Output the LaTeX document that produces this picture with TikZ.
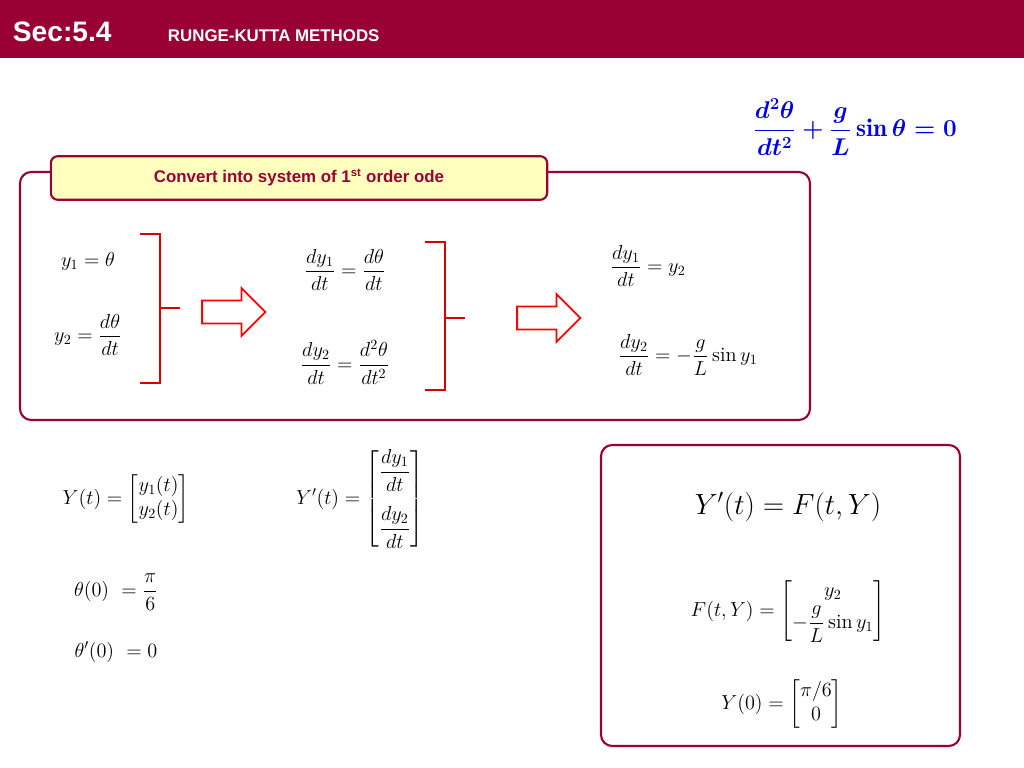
\documentclass[tikz,border=0pt]{standalone}
\usepackage{amsmath}
\usepackage{fontspec}
\setsansfont{Liberation Sans}
\usetikzlibrary{shapes.arrows}
\definecolor{hdr}{RGB}{153,0,51}
\definecolor{lbl}{RGB}{255,255,190}
\definecolor{bblue}{RGB}{0,0,230}
\begin{document}
\begin{tikzpicture}[x=0.025cm,y=-0.025cm,
 m/.style={inner sep=0pt,font=\fontsize{14.5}{17}\selectfont},
 br/.style={red!85!black,line width=1.4pt},
 bigarr/.style={single arrow,draw=red,line width=1.3pt,fill=white,minimum height=45,minimum width=34,single arrow head extend=5,inner sep=4pt}]
\useasboundingbox (0,0) rectangle (1024,768);
\fill[hdr] (0,0) rectangle (1024,58);
\node[anchor=west,text=white,font=\sffamily\bfseries\fontsize{20}{22}\selectfont] (sec) at (8,32) {Sec:5.4};
\node[anchor=west,text=white,font=\sffamily\bfseries\fontsize{12}{14}\selectfont] (ttl) at (163,36) {RUNGE-KUTTA METHODS};
\node[text=bblue,font=\fontsize{18}{21}\selectfont] (eq) at (855,127) {$\boldsymbol{\dfrac{d^2\theta}{dt^2}+\dfrac{g}{L}\sin\theta=0}$};
\draw[hdr,line width=1.5pt,rounded corners=8] (20,172) rectangle (810,420);
\node[draw=hdr,line width=1.5pt,fill=lbl,rounded corners=5,minimum width=353pt,minimum height=31pt,font=\sffamily\bfseries\fontsize{12}{14}\selectfont,text=hdr] (lab) at (299,178) {Convert into system of 1\textsuperscript{st} order ode};
\node[m] (a1) at (88,261) {$y_1=\theta$};
\node[m] (a2) at (88,335) {$y_2=\dfrac{d\theta}{dt}$};
\draw[br] (140,234) -- (160,234) -- (160,383) -- (140,383);
\draw[br] (160,308) -- (180,308);
\node[bigarr] (ar1) at (228,312) {};
\node[m] (b1) at (345,270) {$\dfrac{dy_1}{dt}=\dfrac{d\theta}{dt}$};
\node[m] (b2) at (345,362) {$\dfrac{dy_2}{dt}=\dfrac{d^2\theta}{dt^2}$};
\draw[br] (425,242) -- (445,242) -- (445,390) -- (425,390);
\draw[br] (445,318) -- (465,318);
\node[bigarr] (ar2) at (543,318) {};
\node[m] (c1) at (648,266) {$\dfrac{dy_1}{dt}=y_2$};
\node[m] (c2) at (688,355) {$\dfrac{dy_2}{dt}=-\dfrac{g}{L}\sin y_1$};
\node[m] (d1) at (126,499) {$Y(t)=\begin{bmatrix}y_1(t)\\ y_2(t)\end{bmatrix}$};
\node[m] (d2) at (360,499) {$Y'(t)=\begin{bmatrix}\dfrac{dy_1}{dt}\\[16pt] \dfrac{dy_2}{dt}\end{bmatrix}$};
\node[m] (d3) at (116,592) {$\theta(0)\ =\dfrac{\pi}{6}$};
\node[m] (d4) at (116,652) {$\theta'(0)\ =0$};
\draw[hdr,line width=1.5pt,rounded corners=8] (601,445) rectangle (960,746);
\node[inner sep=0pt,font=\fontsize{22}{25}\selectfont] (e1) at (788,507) {$Y'(t)=F(t,Y)$};
\node[m] (e2) at (788,611) {$F(t,Y)=\begin{bmatrix}y_2\\[2pt] -\dfrac{g}{L}\sin y_1\end{bmatrix}$};
\node[m] (e3) at (782,704) {$Y(0)=\begin{bmatrix}\pi/6\\ 0\end{bmatrix}$};
\end{tikzpicture}
\end{document}
